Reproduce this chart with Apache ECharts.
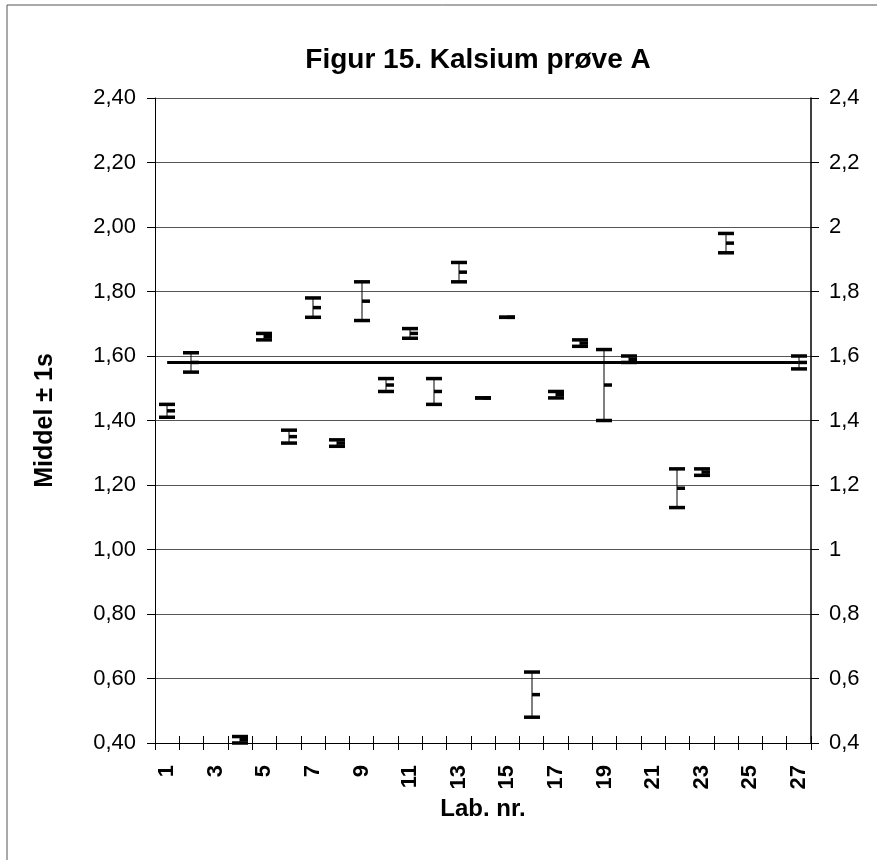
<!DOCTYPE html>
<html>
<head>
<meta charset="utf-8">
<script src="https://cdn.jsdelivr.net/npm/echarts@6/dist/echarts.min.js"></script>
<style>
html,body{margin:0;padding:0;background:#fff;}
#c{width:877px;height:860px;}
</style>
</head>
<body>
<div id="c"></div>
<script>
// Data
var labs = ['1','2','3','4','5','6','7','8','9','10','11','12','13','14','15','16','17','18','19','20','21','22','23','24','25','26','27'];
var lowVals  = [1.41,1.55,null,0.40,1.65,1.33,1.72,1.32,1.71,1.49,1.655,1.45,1.83,1.47,1.72,0.48,1.47,1.63,1.40,1.58,null,1.13,1.23,1.92,null,null,1.56];
var meanVals = [1.43,1.58,null,0.41,1.66,1.35,1.75,1.33,1.77,1.51,1.67,1.49,1.86,1.47,1.72,0.55,1.48,1.64,1.51,1.59,null,1.19,1.24,1.95,null,null,1.58];
var highVals = [1.45,1.61,null,0.42,1.67,1.37,1.78,1.34,1.83,1.53,1.685,1.53,1.89,1.47,1.72,0.62,1.49,1.65,1.62,1.60,null,1.25,1.25,1.98,null,null,1.60];
var refValue = 1.58;
var yMin = 0.4, yMax = 2.4, yStep = 0.2;

var barData = [];
for (var i = 0; i < labs.length; i++) {
  if (meanVals[i] !== null) barData.push([i, lowVals[i], meanVals[i], highVals[i]]);
}

var chart = echarts.init(document.getElementById('c'), null, {renderer:'canvas'});
var font = 'Liberation Sans, Arial, sans-serif';

function renderItem(params, api) {
  var x = api.value(0);
  var lo = api.coord([x, api.value(1)]);
  var me = api.coord([x, api.value(2)]);
  var hi = api.coord([x, api.value(3)]);
  var cx = Math.round(lo[0]);
  var capW = 16, capH = 3.5, mW = 8;
  return {
    type: 'group',
    children: [
      {type:'line', shape:{x1:cx, y1:hi[1], x2:cx, y2:lo[1]}, style:{stroke:'#000', lineWidth:1}},
      {type:'rect', shape:{x:cx-capW/2, y:hi[1]-capH/2, width:capW, height:capH}, style:{fill:'#000'}},
      {type:'rect', shape:{x:cx-capW/2, y:lo[1]-capH/2, width:capW, height:capH}, style:{fill:'#000'}},
      {type:'rect', shape:{x:cx, y:me[1]-capH/2, width:mW, height:capH}, style:{fill:'#000'}}
    ]
  };
}

var option = {
  animation: false,
  backgroundColor: '#fff',
  title: {
    text: 'Figur 15. Kalsium prøve A',
    left: 473, top: 41, textAlign: 'center',
    textStyle: {fontFamily: font, fontWeight: 'bold', fontSize: 28, color: '#000'}
  },
  graphic: [
    {type:'rect', shape:{x:7, y:5, width:900, height:900}, style:{fill:'none', stroke:'#555', lineWidth:1}, z:-10}
  ],
  grid: {left:155, right:66, top:98, bottom:117, containLabel:false},
  xAxis: [
    {
      type:'category', data: labs, boundaryGap:true, position:'bottom',
      name: 'Lab. nr.', nameLocation:'middle', nameGap: 52,
      nameTextStyle: {fontFamily: font, fontWeight:'bold', fontSize:24, color:'#000'},
      axisLine: {show:true, lineStyle:{color:'#000', width:1}},
      axisTick: {show:true, interval:0, length:7, lineStyle:{color:'#000'}},
      axisLabel: {interval:1, rotate:90, fontFamily:font, fontWeight:'bold', fontSize:22, color:'#000', margin:22},
      splitLine: {show:false}
    },
    {
      type:'category', data: labs, boundaryGap:true, position:'bottom',
      axisLine: {show:false},
      axisTick: {show:true, inside:true, interval:0, length:7, lineStyle:{color:'#000'}},
      axisLabel: {show:false},
      splitLine: {show:false}
    }
  ],
  yAxis: [
    {
      type:'value', min:yMin, max:yMax, interval:yStep, position:'left',
      name:'Middel ± 1s', nameLocation:'middle', nameGap: 97,
      nameTextStyle: {fontFamily: font, fontWeight:'bold', fontSize:25, color:'#000'},
      axisLine: {show:true, lineStyle:{color:'#000', width:1}},
      axisTick: {show:true, length:8, lineStyle:{color:'#000'}},
      axisLabel: {fontFamily:font, fontSize:22, color:'#000', margin:19,
        formatter: function(v){ return v.toFixed(2).replace('.', ','); }},
      splitLine: {show:true, lineStyle:{color:'#555', width:1}}
    },
    {
      type:'value', min:yMin, max:yMax, interval:yStep, position:'right',
      axisLine: {show:true, lineStyle:{color:'#000', width:1.5}},
      axisTick: {show:true, length:8, lineStyle:{color:'#000'}},
      axisLabel: {fontFamily:font, fontSize:22, color:'#000', margin:18,
        formatter: function(v){ return String(parseFloat(v.toFixed(1))).replace('.', ','); }},
      splitLine: {show:false}
    }
  ],
  series: [
    {
      type:'line', xAxisIndex:0, yAxisIndex:0,
      data: [[labs[0], refValue], [labs[labs.length-1], refValue]],
      symbol:'none', lineStyle:{color:'#000', width:3}, z:2, silent:true
    },
    {
      type:'custom', xAxisIndex:0, yAxisIndex:0, renderItem: renderItem,
      data: barData, z:5, silent:true
    }
  ]
};
chart.setOption(option);
</script>
</body>
</html>
